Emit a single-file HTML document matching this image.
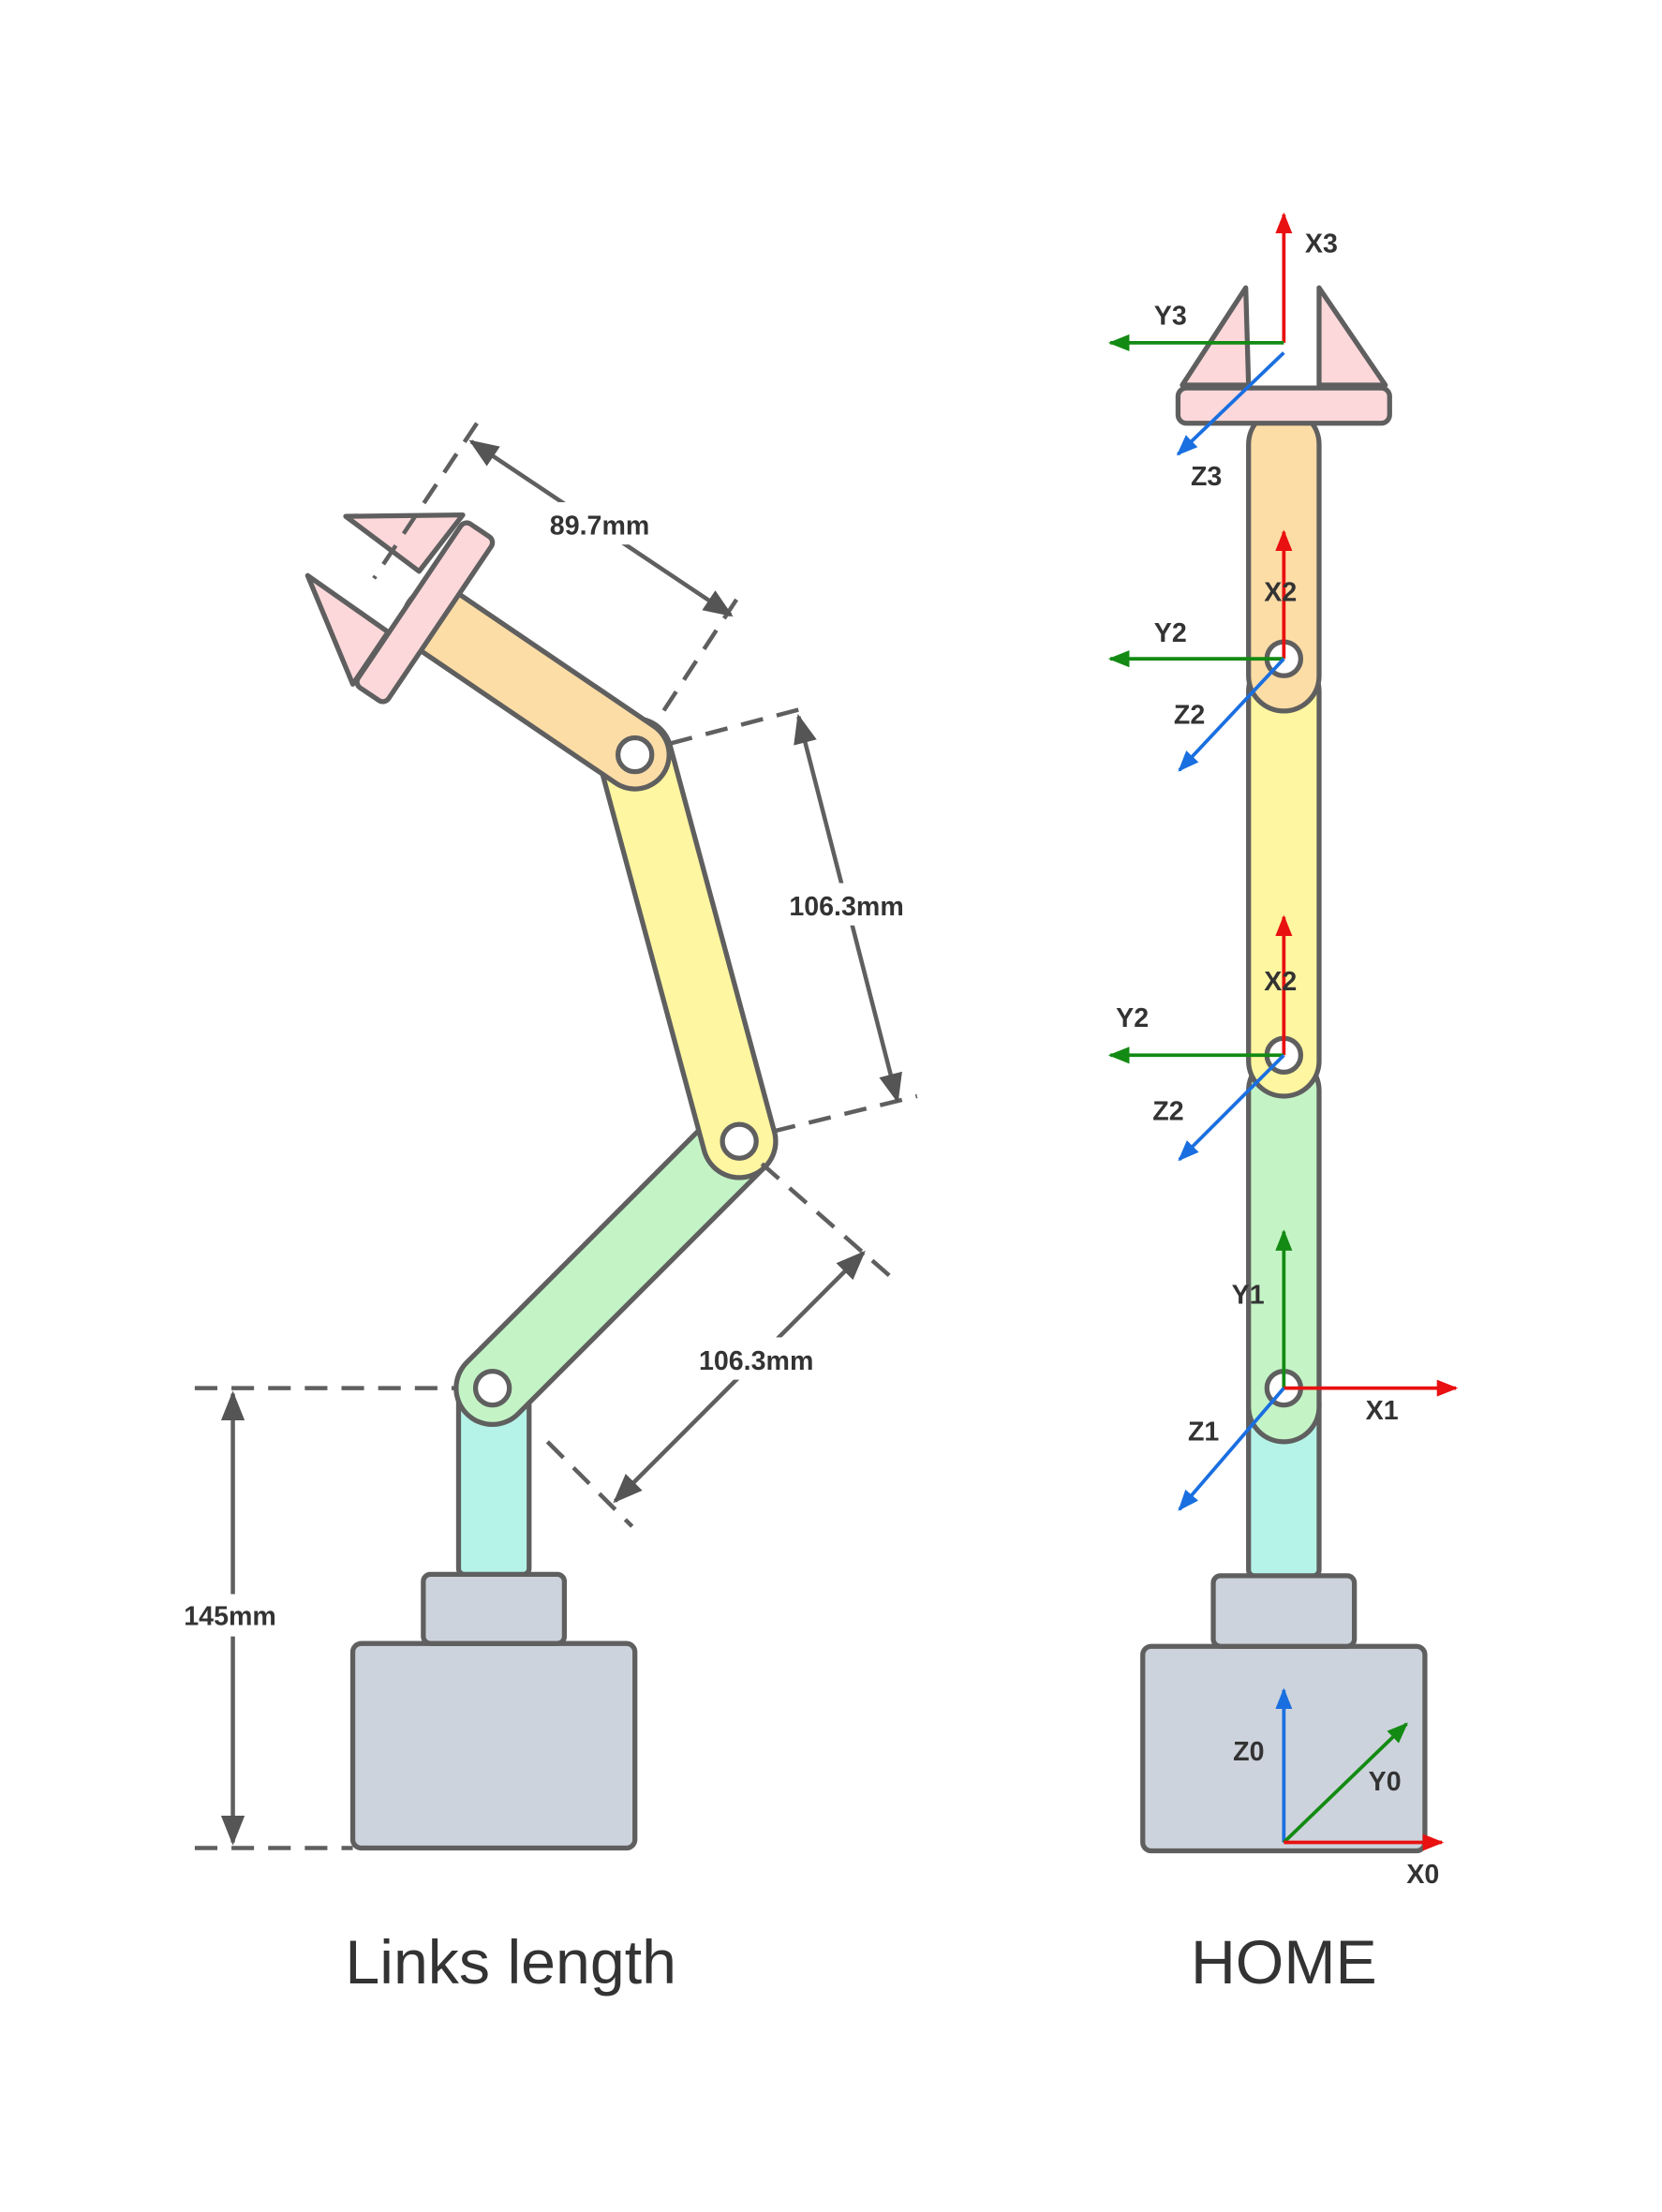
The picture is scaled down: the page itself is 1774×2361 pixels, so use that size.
<!DOCTYPE html>
<html><head><meta charset="utf-8"><style>
html,body{margin:0;padding:0;background:#fff}
svg{display:block}
text{font-family:"Liberation Sans",sans-serif;fill:#333}
.l{font-weight:bold;font-size:19px}
.ax{font-weight:bold;font-size:19px}
</style></head><body>
<svg width="1774" height="2361" viewBox="0 0 1178 1568" xmlns="http://www.w3.org/2000/svg">
<defs>
<marker id="ag" viewBox="0 0 10 10" refX="9" refY="5" markerWidth="7" markerHeight="7" orient="auto-start-reverse"><path d="M0,1L10,5L0,9z" fill="#555"/></marker>
<marker id="ar" viewBox="0 0 10 10" refX="9" refY="5" markerWidth="6" markerHeight="6" orient="auto"><path d="M0,1L10,5L0,9z" fill="#e81010"/></marker>
<marker id="agr" viewBox="0 0 10 10" refX="9" refY="5" markerWidth="6" markerHeight="6" orient="auto"><path d="M0,1L10,5L0,9z" fill="#138a13"/></marker>
<marker id="ab" viewBox="0 0 10 10" refX="9" refY="5" markerWidth="6" markerHeight="6" orient="auto"><path d="M0,1L10,5L0,9z" fill="#1a6fe0"/></marker>
</defs>
<g stroke="#5f5f5f" stroke-width="3.5" stroke-linejoin="round">
<rect x="250" y="1165" width="200" height="145" rx="6" fill="#cdd3dc"/>
<rect x="300" y="1116" width="100" height="49" rx="5" fill="#cdd3dc"/>
<rect x="325" y="985" width="50" height="131" rx="4" fill="#b5f3e8"/>
<line x1="349" y1="984" x2="524" y2="809" stroke="#5f5f5f" stroke-width="55" stroke-linecap="round"/>
<line x1="349" y1="984" x2="524" y2="809" stroke="#c4f4c6" stroke-width="48" stroke-linecap="round"/>
<line x1="524" y1="809" x2="450" y2="535" stroke="#5f5f5f" stroke-width="55" stroke-linecap="round"/>
<line x1="524" y1="809" x2="450" y2="535" stroke="#fef6a0" stroke-width="48" stroke-linecap="round"/>
<circle cx="524" cy="809" r="12" fill="#fff"/>
<line x1="450" y1="535" x2="310" y2="440" stroke="#5f5f5f" stroke-width="52" stroke-linecap="round"/>
<line x1="450" y1="535" x2="310" y2="440" stroke="#fddda6" stroke-width="45" stroke-linecap="round"/>
<circle cx="349" cy="984" r="12" fill="#fff"/>
<circle cx="450" cy="535" r="12" fill="#fff"/>
<path d="M245,366L328,365L297,405Z" fill="#fdd8da"/>
<path d="M218,408L275,448L250,485Z" fill="#fdd8da"/>
<g transform="translate(301,434) rotate(-56)"><rect x="-70" y="-13" width="140" height="26" rx="5" fill="#fdd8da"/></g>
</g>
<g stroke="#5f5f5f" stroke-width="3" fill="none">
<g stroke-dasharray="16,10">
<line x1="138" y1="984" x2="322" y2="984"/><line x1="138" y1="1310" x2="250" y2="1310"/>
<line x1="540" y1="825" x2="637" y2="910"/><line x1="388" y1="1022" x2="448" y2="1082"/>
<line x1="475" y1="527" x2="570" y2="502"/><line x1="548" y1="802" x2="650" y2="777"/>
<line x1="338" y1="300" x2="265" y2="410"/><line x1="522" y1="425" x2="465" y2="512"/>
</g>
<line x1="165" y1="988" x2="165" y2="1306" marker-start="url(#ag)" marker-end="url(#ag)"/>
<line x1="612" y1="888" x2="436" y2="1064" marker-start="url(#ag)" marker-end="url(#ag)"/>
<line x1="566" y1="508" x2="636" y2="780" marker-start="url(#ag)" marker-end="url(#ag)"/>
<line x1="334" y1="313" x2="518" y2="436" marker-start="url(#ag)" marker-end="url(#ag)"/>
</g>
<rect x="378" y="356" width="95" height="30" fill="#fff"/>
<rect x="548" y="626" width="104" height="30" fill="#fff"/>
<rect x="484" y="948" width="104" height="30" fill="#fff"/>
<rect x="120" y="1130" width="90" height="30" fill="#fff"/>
<text class="l" x="425" y="379" text-anchor="middle">89.7mm</text>
<text class="l" x="600" y="649" text-anchor="middle">106.3mm</text>
<text class="l" x="536" y="971" text-anchor="middle">106.3mm</text>
<text class="l" x="163" y="1152" text-anchor="middle">145mm</text>

<g stroke="#5f5f5f" stroke-width="3.5" stroke-linejoin="round">
<rect x="810" y="1167" width="200" height="145" rx="6" fill="#cdd3dc"/>
<rect x="860" y="1117" width="100" height="50" rx="5" fill="#cdd3dc"/>
<rect x="885" y="990" width="50" height="127" rx="4" fill="#b5f3e8"/>
<rect x="885" y="748" width="50" height="274" rx="25" fill="#c4f4c6"/>
<rect x="885" y="465" width="50" height="312" rx="25" fill="#fef6a0"/>
<rect x="885" y="290" width="50" height="214" rx="25" fill="#fddda6"/>
<circle cx="910" cy="467" r="12" fill="#fff"/><circle cx="910" cy="748" r="12" fill="#fff"/><circle cx="910" cy="984" r="12" fill="#fff"/>
<path d="M838,273L883,204L885,273Z" fill="#fdd8da"/>
<path d="M935,204L982,273L935,273Z" fill="#fdd8da"/>
<rect x="835" y="275" width="150" height="25" rx="6" fill="#fdd8da"/>
</g>
<g stroke-width="2.5">
<line x1="910" y1="243" x2="910" y2="152" stroke="#e81010" marker-end="url(#ar)"/>
<line x1="910" y1="243" x2="787" y2="243" stroke="#138a13" marker-end="url(#agr)"/>
<line x1="910" y1="250" x2="835" y2="322" stroke="#1a6fe0" marker-end="url(#ab)"/>
<line x1="910" y1="467" x2="910" y2="377" stroke="#e81010" marker-end="url(#ar)"/>
<line x1="910" y1="467" x2="787" y2="467" stroke="#138a13" marker-end="url(#agr)"/>
<line x1="910" y1="467" x2="836" y2="546" stroke="#1a6fe0" marker-end="url(#ab)"/>
<line x1="910" y1="748" x2="910" y2="650" stroke="#e81010" marker-end="url(#ar)"/>
<line x1="910" y1="748" x2="787" y2="748" stroke="#138a13" marker-end="url(#agr)"/>
<line x1="910" y1="748" x2="836" y2="822" stroke="#1a6fe0" marker-end="url(#ab)"/>
<line x1="910" y1="984" x2="910" y2="873" stroke="#138a13" marker-end="url(#agr)"/>
<line x1="910" y1="984" x2="1032" y2="984" stroke="#e81010" marker-end="url(#ar)"/>
<line x1="910" y1="984" x2="836" y2="1070" stroke="#1a6fe0" marker-end="url(#ab)"/>
<line x1="910" y1="1306" x2="910" y2="1198" stroke="#1a6fe0" marker-end="url(#ab)"/>
<line x1="910" y1="1306" x2="997" y2="1222" stroke="#138a13" marker-end="url(#agr)"/>
<line x1="910" y1="1306" x2="1022" y2="1306" stroke="#e81010" marker-end="url(#ar)"/>
</g>
<g>
<text class="ax" x="925" y="179">X3</text><text class="ax" x="818" y="230">Y3</text><text class="ax" x="844" y="344">Z3</text>
<text class="ax" x="896" y="426">X2</text><text class="ax" x="818" y="455">Y2</text><text class="ax" x="832" y="513">Z2</text>
<text class="ax" x="896" y="702">X2</text><text class="ax" x="791" y="728">Y2</text><text class="ax" x="817" y="794">Z2</text>
<text class="ax" x="873" y="924">Y1</text><text class="ax" x="968" y="1006">X1</text><text class="ax" x="842" y="1021">Z1</text>
<text class="ax" x="874" y="1248">Z0</text><text class="ax" x="970" y="1269">Y0</text><text class="ax" x="997" y="1335">X0</text>
</g>
<text x="362" y="1406" text-anchor="middle" font-size="44">Links length</text>
<text x="910" y="1406" text-anchor="middle" font-size="44">HOME</text>
</svg>
</body></html>
